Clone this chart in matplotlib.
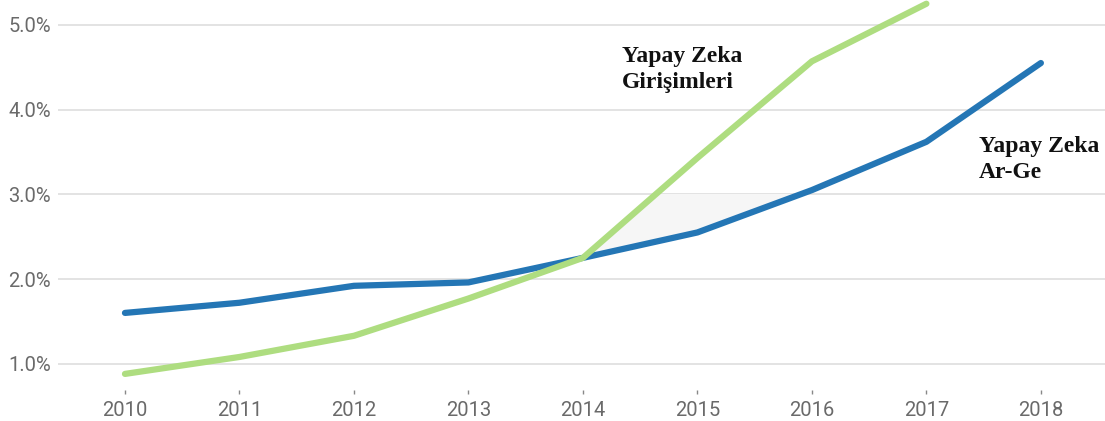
import numpy as np
import matplotlib
matplotlib.use('Agg')
import matplotlib.pyplot as plt
from matplotlib.patches import Rectangle

# 데이터
years = [2010, 2011, 2012, 2013, 2014, 2015, 2016, 2017, 2018]
arge = [1.60, 1.72, 1.92, 1.96, 2.25, 2.55, 3.05, 3.62, 4.55]
girisim_years = [2010, 2011, 2012, 2013, 2014, 2015, 2016, 2017]
girisim = [0.88, 1.08, 1.33, 1.77, 2.25, 3.43, 4.57, 5.25]
y_ticks = [1.0, 2.0, 3.0, 4.0, 5.0]
girisim_label = ['Yapay Zeka', 'Girişimleri']
arge_label = ['Yapay Zeka', 'Ar-Ge']

blue = '#2476b5'
green = '#aedd80'

fig = plt.figure(figsize=(11.05, 4.21), dpi=100)
ax = fig.add_axes([58 / 1105, 1 - 390 / 421, 1 - 58 / 1105, 390 / 421])

# 회색 영역 (두 선 사이, 3.0% 아래)
yrs_common = np.array(girisim_years)
g = np.array(girisim)
b = np.array(arge[:len(girisim_years)])
poly = ax.fill_between(yrs_common, g, b, where=g >= b, interpolate=True,
                       color='#f6f6f6', lw=0, zorder=1)
clip = Rectangle((2009, 0), 10, 3.0, transform=ax.transData)
poly.set_clip_path(clip)

ax.plot(years, arge, color=blue, lw=4.5, solid_capstyle='round', zorder=3)
ax.plot(girisim_years, girisim, color=green, lw=4.5, solid_capstyle='round', zorder=3)

ax.set_xlim(2009.415, 2018.56)
ax.set_ylim(0.69, 5.294)
ax.set_xticks(years)
ax.set_xticklabels([str(y) for y in years])
ax.set_yticks(y_ticks)
ax.set_yticklabels(['%.1f%%' % v for v in y_ticks])

ax.grid(axis='y', color='#e0e0e0', lw=1.3)
ax.set_axisbelow(True)
for s in ax.spines.values():
    s.set_visible(False)

ax.tick_params(axis='x', length=3, width=1, color='#888888', pad=5,
               labelsize=14.5, labelcolor='#6a6a6a')
ax.tick_params(axis='y', length=0, pad=5, labelsize=14.5, labelcolor='#6a6a6a')
for lab in ax.get_xticklabels() + ax.get_yticklabels():
    lab.set_family('Roboto')

# 라벨 (줄마다 baseline 기준)
tkw = dict(ha='left', va='baseline', family='Liberation Serif',
           fontweight='bold', fontsize=17, color='#111111')
for line, yy in zip(girisim_label, [4.56, 4.255]):
    ax.text(2014.34, yy, line, **tkw)
for line, yy in zip(arge_label, [3.497, 3.19]):
    ax.text(2017.46, yy, line, **tkw)

fig.savefig('out.png', dpi=100)
